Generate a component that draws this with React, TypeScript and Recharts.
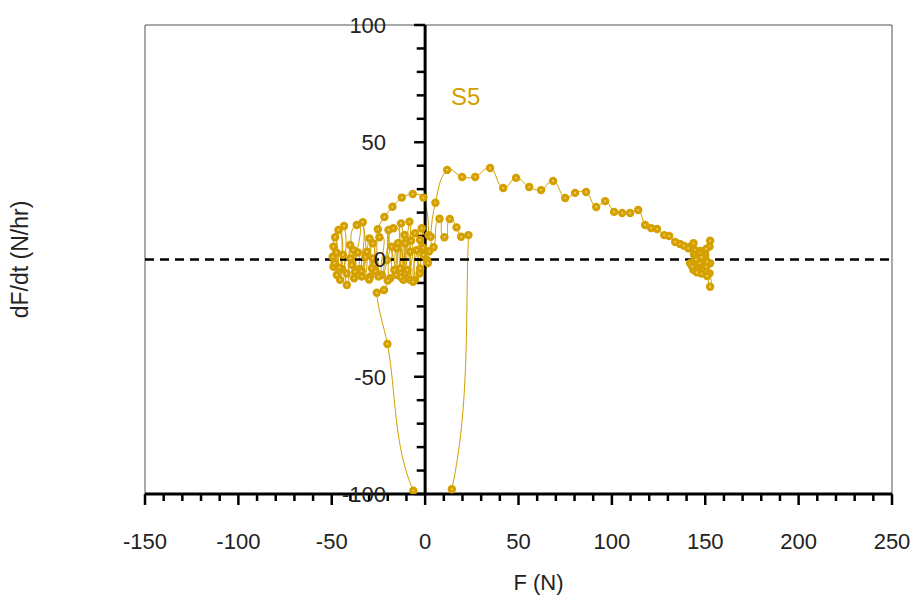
import { LineChart, Line, XAxis, YAxis, ReferenceLine, ReferenceArea, Legend } from 'recharts';

const GOLD = '#D4A000';
const FONT = '"Liberation Sans", Arial, sans-serif';

// force (N) and its rate (N/hr), in the order the trace is drawn
const forceN = [
    0.9, 2.2, -0.9, -1.8, -2.7, -2.7, -5.4, -5.4, -8, -8, -8.4, -10.7, -10.7, -11.6, -12.9, -13.4,
    -15.2, -15.5, -17, -18.7, -19.6, -20.5, -23.2, -24.5, -25, -27, -28, -28.5, -29.5, -29.8, -31.2,
    -33.9, -33.4, -35, -36.6, -37.5, -38.4, -39.3, -40.2, -41.9, -43.4, -44.5, -45.5, -46.4, -47.3,
    -48.2, -49.1, -49.1, -49.5,
    -48.5, -47.5, -46, -44, -42, -40, -38, -36, -34, -32, -30, -28, -26.5,
    -25.3, -21.8, -17.5, -12.5, -6.6, -0.9, 1.8, -1, 1.5,
    -3, -4.5, -6.5, -7.5, -9.5, -11, -13, -14.5, -16.5, -18, -20, -22, -25.9,
    -20.2, -6.3, 14.3, 23.2, 19.3, 16.8, 13.2, 10.3, 7.7, 4.5, 3, 5.5,
    11.8, 19.8, 26.8, 34.8, 41.8, 48.7, 55.7, 62.1, 68.5, 75, 80.3, 86.2, 91.6, 96.4, 101.2, 105.5,
    109.8, 114.1, 117.8, 121, 124.2, 128, 130.7, 133.9, 136.5, 138.7, 141.9, 144.6, 147.3,
    150, 152.3, 152.6, 150.5, 146, 143.7, 141, 144, 147.3, 149, 152.6, 150.5, 148.2, 146, 143.7,
    141.9, 144.5, 147, 150, 152.3, 152.6, 151, 148, 145.5, 143, 145, 148, 151,
];
const rateNhr = [
    -0.2, 3.5, 1.9, 13.3, -3.8, 8.3, -8.7, 11.2, -8.7, 3.3, 16.1, -6, 6.9, -8.7, 15.4, -3.8,
    4.8, -6.5, 13.3, -8, 12.6, -0.2, -6.6, 9.5, -7.3, -2, 6.9, -3.8, -7.3, 9, 3.3,
    -7.3, 15.9, -4, 14.7, -5.2, 4.1, -2.3, 6.2, -10.9, 14.3, -4, -8.7, 12.6, -6.6,
    9.5, -3.1, 5.5, 1.2,
    -1.5, 3, -3.5, 2, -6, 0.5, -8, 3, -5, 1, -8.5, 0.5, -5,
    12.9, 18.1, 22.5, 26.4, 27.9, 26.4, 10.4, 5, -1.5,
    -6, 4, -9.5, 8, -4.5, 10.5, -7.5, 7, -4.5, 5.5, -9, -13, -14.2,
    -36, -98.6, -98, 10.4, 9.7, 13.7, 17.3, 9.5, 17.4, 5.2, 9.7, 24.2,
    38.2, 35.2, 35.2, 39, 30.5, 34.8, 30.9, 29.6, 33.5, 26.2, 28.4, 28.8, 22.4, 24.9, 20.3, 19.8,
    19.8, 21.1, 14.7, 13.4, 13, 10.4, 10, 7.5, 6.6, 5.8, 5.3, 4, 3.6,
    2, 5.5, 8, 4.5, 1, 6.9, 4.8, 2, 2.6, -0.5, -1.6, -3, -4.5, -2, -4.5,
    -1.6, 0.5, -1.5, 0.5, -5.9, -11.6, -7, -6, -5.5, -3, 0, 1, -1,
];

const xTicks = [-150, -100, -50, 0, 50, 100, 150, 200, 250];
const yTicks = [-100, -50, 0, 50, 100];
const xMinor = Array.from({ length: 41 }, (_, i) => -150 + i * 10);
const yMinor = Array.from({ length: 21 }, (_, i) => -100 + i * 10);

const data = forceN.map((f, i) => ({ F: f, rate: rateNhr[i] }));

// smoothed line: tangent from the neighbours, handle length from the segment itself
const smoothCurve = (context: any) => {
    let pts: number[][] = [];
    const handle = (a: number[], b: number[], from: number[], to: number[]) => {
        const dx = to[0] - from[0];
        const dy = to[1] - from[1];
        const d = Math.hypot(dx, dy) || 1;
        const len = Math.hypot(b[0] - a[0], b[1] - a[1]) / 3;
        return [dx / d * len, dy / d * len];
    };
    return {
        areaStart() {},
        areaEnd() {},
        lineStart() {
            pts = [];
        },
        point(x: number, y: number) {
            pts.push([+x, +y]);
        },
        lineEnd() {
            const n = pts.length;
            if (!n) return;
            context.moveTo(pts[0][0], pts[0][1]);
            for (let i = 0; i < n - 1; i++) {
                const p0 = pts[Math.max(i - 1, 0)];
                const p1 = pts[i];
                const p2 = pts[i + 1];
                const p3 = pts[Math.min(i + 2, n - 1)];
                const h1 = handle(p1, p2, p0, p2);
                const h2 = handle(p1, p2, p1, p3);
                context.bezierCurveTo(p1[0] + h1[0], p1[1] + h1[1], p2[0] - h2[0], p2[1] - h2[1], p2[0], p2[1]);
            }
        },
    };
};

const XTick = (props: any) => {
    const { x, y, payload } = props;
    const major = xTicks.includes(payload.value);
    return (
        <g>
            <line x1={x} x2={x} y1={y} y2={y + (major ? 11 : 7)} stroke="#000" strokeWidth={2.5} />
            {major && (
                <text x={x} y={y + 55} textAnchor="middle" fontSize={22} fill="#222" fontFamily={FONT}>
                    {payload.value}
                </text>
            )}
        </g>
    );
};

const Dot = (props: any) => {
    const { cx, cy, index } = props;
    if (cx == null || cy == null) return null;
    return (
        <g key={`d${index}`}>
            <circle cx={cx} cy={cy} r={4.2} fill={GOLD} />
            <circle cx={cx} cy={cy} r={1.1} fill="#EFCB62" />
        </g>
    );
};

export default function App() {
    return (
        <div style={{ position: 'absolute', left: 0, top: 0 }}>
            <LineChart
                width={914}
                height={597}
                data={data}
                margin={{ top: 25, right: 22, bottom: 0, left: 0 }}
                style={{ fontFamily: FONT }}
            >
                <ReferenceArea x1={-150} x2={250} y1={-100} y2={100} fill="none" stroke="#555" strokeWidth={1} />
                <XAxis
                    dataKey="F"
                    type="number"
                    domain={[-150, 250]}
                    ticks={xMinor}
                    interval={0}
                    allowDataOverflow
                    height={103}
                    tickSize={0}
                    tickMargin={0}
                    tickLine={false}
                    tick={<XTick />}
                    axisLine={{ stroke: '#000', strokeWidth: 3 }}
                    label={{ value: 'F (N)', position: 'insideBottom', offset: 7, dx: 20, fontSize: 22, fill: '#222' }}
                />
                <YAxis
                    type="number"
                    domain={[-100, 100]}
                    ticks={yTicks}
                    allowDataOverflow
                    width={145}
                    tick={false}
                    tickLine={false}
                    axisLine={false}
                    label={{
                        value: 'dF/dt (N/hr)',
                        angle: -90,
                        position: 'insideLeft',
                        offset: 20,
                        fontSize: 23,
                        fill: '#222',
                        style: { textAnchor: 'middle' },
                    }}
                />
                <Line
                    dataKey="rate"
                    name="S5"
                    type={smoothCurve as any}
                    stroke={GOLD}
                    strokeWidth={1}
                    dot={<Dot />}
                    activeDot={false}
                    isAnimationActive={false}
                />
                <ReferenceLine x={0} stroke="#000" strokeWidth={3} />
                {yMinor.map((v) => {
                    const major = yTicks.includes(v);
                    return (
                        <ReferenceLine
                            key={v}
                            segment={[{ x: major ? -5.9 : -4.5, y: v }, { x: 0, y: v }]}
                            stroke="#000"
                            strokeWidth={2.5}
                            label={major ? { value: v, position: 'left', offset: 28, fontSize: 22, fill: '#222' } : undefined}
                        />
                    );
                })}
                <ReferenceLine y={0} stroke="#000" strokeWidth={2.5} strokeDasharray="9 6" />
                <Legend
                    verticalAlign="middle"
                    align="center"
                    wrapperStyle={{ left: 451, top: 85, width: 'auto', height: 'auto' }}
                    content={(p: any) => (
                        <div style={{ color: GOLD, fontSize: 24, fontFamily: FONT, lineHeight: 1 }}>
                            {p.payload?.[0]?.value}
                        </div>
                    )}
                />
            </LineChart>
        </div>
    );
}
